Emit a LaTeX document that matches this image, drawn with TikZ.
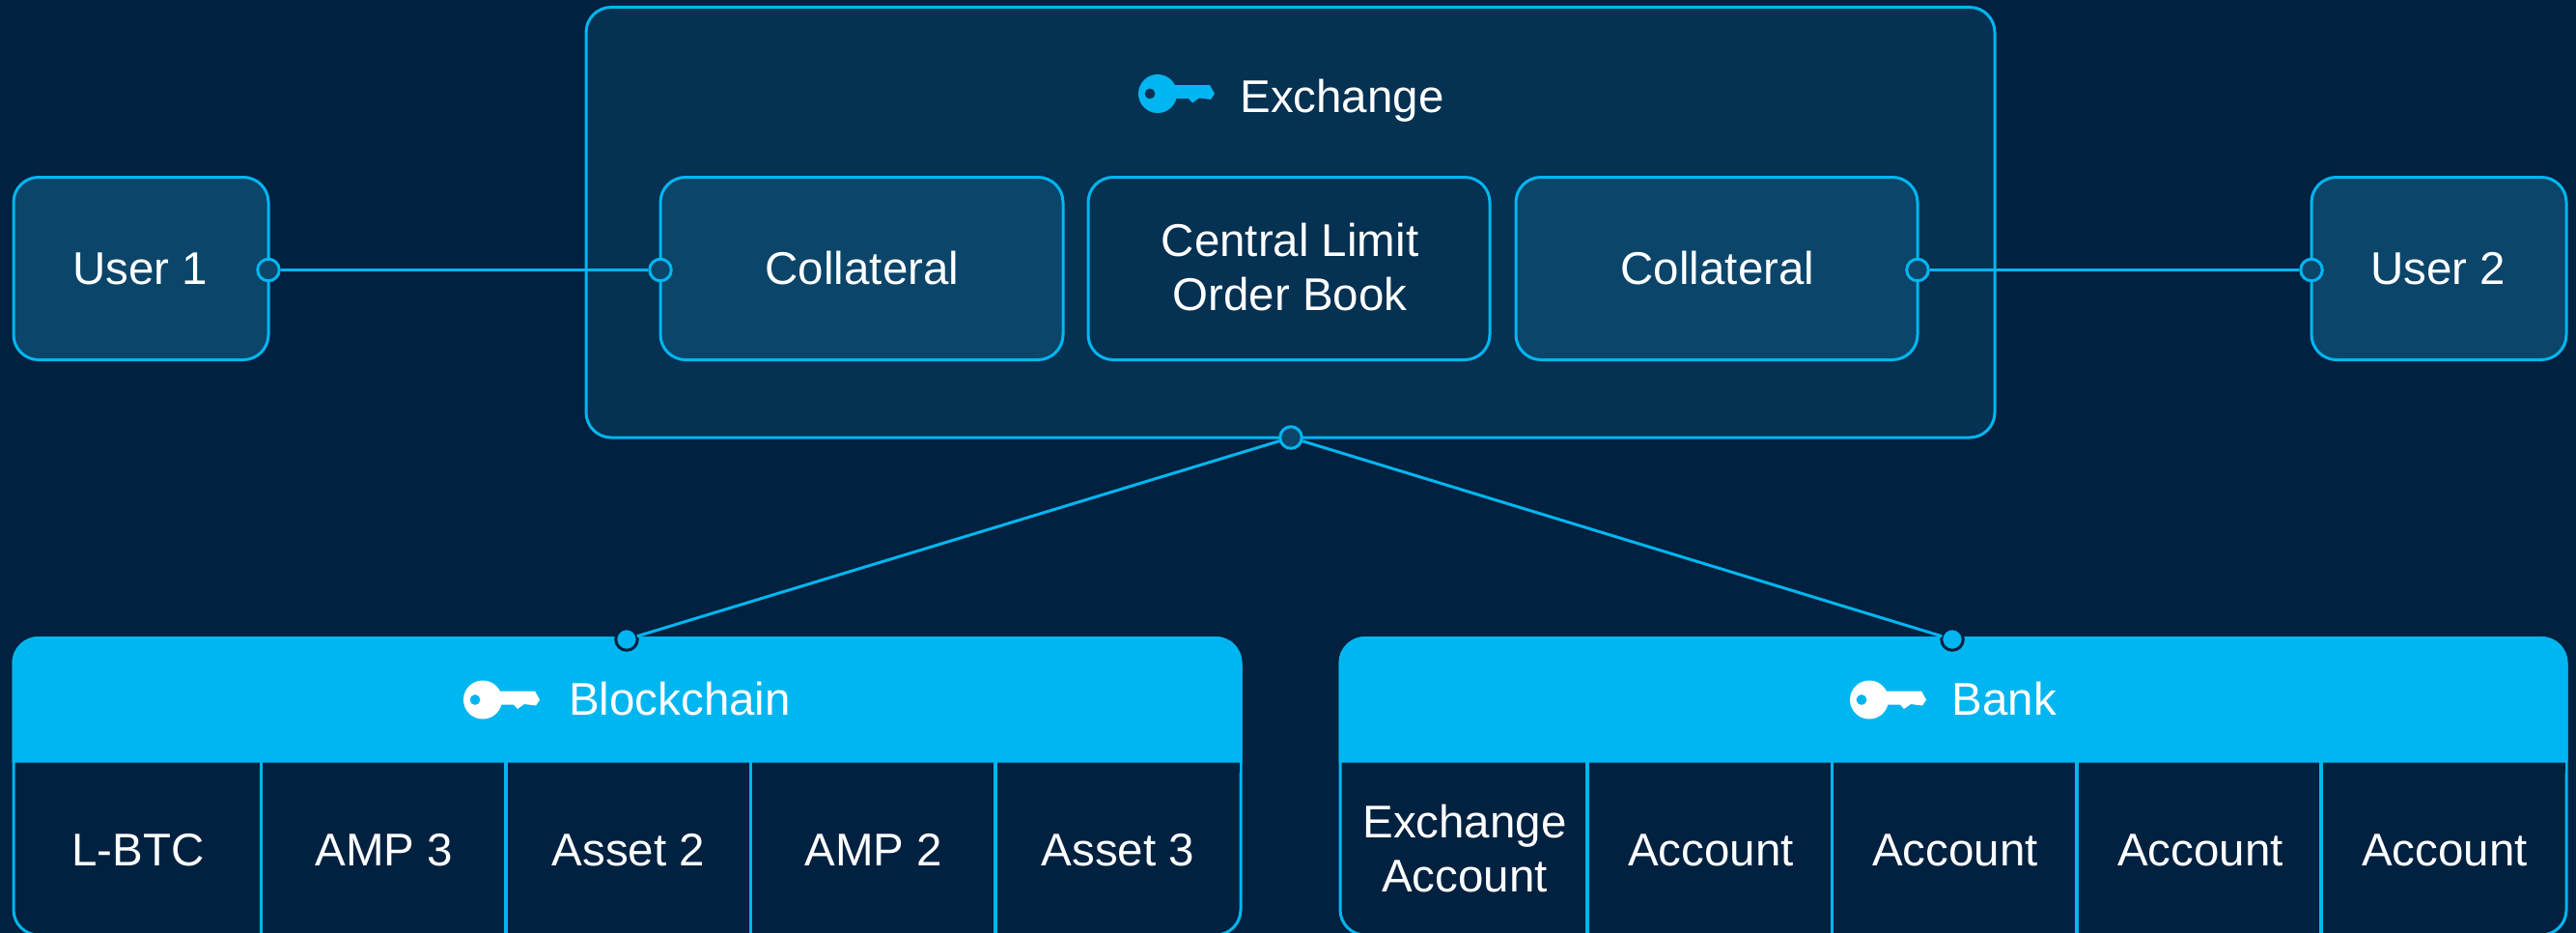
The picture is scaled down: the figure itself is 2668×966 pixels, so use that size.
\documentclass[tikz,border=0pt]{standalone}
\usepackage{fontspec}
\setmainfont{Liberation Sans}
\definecolor{bg}{HTML}{002140}
\definecolor{panel}{HTML}{053152}
\definecolor{inner}{HTML}{0B456A}
\definecolor{cy}{HTML}{00B6F0}
\tikzset{
  x=1pt,y=-1pt,
  box/.style={draw=cy,line width=3pt,rounded corners=26pt,fill=#1},
  port/.style={circle,draw=cy,line width=3pt,fill=#1,minimum size=22.5pt,inner sep=0pt},
  port/.default=inner,
  wire/.style={draw=cy,line width=3pt},
  txt/.style={text=white,font=\fontsize{47.5}{56}\selectfont,align=center,inner sep=0pt,anchor=base},
  divider/.style={draw=cy,line width=3.5pt},
  header/.style={fill=cy,draw=cy,line width=3pt},
}
\newcommand{\keyicon}[3]{% x,y,colour
  \begin{scope}[shift={(#1,#2)}]
    \fill[#3,even odd rule] (0,0) circle (20) (-8,0) circle (5.5);
    \fill[#3] (14,-9) -- (54,-9) -- (59,0) -- (55,6) -- (43,4.5) -- (36,9.5) -- (32,5) -- (14,5) -- cycle;
  \end{scope}}
\begin{document}
\begin{tikzpicture}
\useasboundingbox (0,0) rectangle (2668,966);
\fill[bg] (0,0) rectangle (2668,966);
\clip (0,0) rectangle (2668,966);
% top panel
\draw[box=panel] (607,7.5) rectangle (2066,453);
\keyicon{1199}{97}{cy}
\node[txt] (ex) at (1390,116) {Exchange};
% users
\path[box=inner] (14,183.5) rectangle (278,372.5);
\path[box=inner] (2394,183.5) rectangle (2658,372.5);
\node[txt] (u1) at (145,294) {User 1};
\node[txt] (u2) at (2525,294) {User 2};
% inner boxes
\path[box=inner] (684,183.5) rectangle (1101,372.5);
\path[box=panel] (1127,183.5) rectangle (1543,372.5);
\path[box=inner] (1570,183.5) rectangle (1986,372.5);
\node[txt] (c1) at (893,294) {Collateral};
\node[txt] (clob) at (1336,321.5) {Central Limit\\Order Book};
\node[txt] (c2) at (1779,294) {Collateral};
% bottom panels
\draw[box=bg] (14,660.5) rectangle (1285,968);
\path[header] (14,788) [rounded corners=26pt] -- (14,660.5) -- (1285,660.5) [sharp corners] -- (1285,788) -- cycle;
\draw[box=bg] (1388,660.5) rectangle (2658,968);
\path[header] (1388,788) [rounded corners=26pt] -- (1388,660.5) -- (2658,660.5) [sharp corners] -- (2658,788) -- cycle;
\fill[bg] (15.5,789.5) rectangle (1283.5,800);
\fill[bg] (1389.5,789.5) rectangle (2656.5,800);
\keyicon{500}{724.5}{white}
\keyicon{1936}{724.5}{white}
\node[txt] (bc) at (704,740) {Blockchain};
\node[txt] (bk) at (2076,740) {Bank};
\foreach \x in {270.5,524,777.5,1031}{\draw[divider] (\x,788) -- (\x,966);}
\foreach \x in {1644,1897.5,2151,2404}{\draw[divider] (\x,788) -- (\x,966);}
\node[txt] (a1) at (143,896) {L-BTC};
\node[txt] (a2) at (398,896) {AMP 3};
\node[txt] (a3) at (651,896) {Asset 2};
\node[txt] (a4) at (905,896) {AMP 2};
\node[txt] (a5) at (1158,896) {Asset 3};
\node[txt] (b1) at (1517,923) {Exchange\\Account};
\node[txt] (b2) at (1772,896) {Account};
\node[txt] (b3) at (2025,896) {Account};
\node[txt] (b4) at (2279,896) {Account};
\node[txt] (b5) at (2532,896) {Account};
% ports
\node[port] (p1) at (278,279.5) {};
\node[port] (p2) at (684,279.5) {};
\node[port] (p3) at (1986,279.5) {};
\node[port] (p4) at (2394,279.5) {};
\node[port] (p5) at (1337,453) {};
\node[port=cy,draw=bg,outer sep=0pt] (p6) at (649,662) {};
\node[port=cy,draw=bg,outer sep=0pt] (p7) at (2022,662) {};
\draw[wire] (p1) -- (p2);
\draw[wire] (p3) -- (p4);
\draw[wire] (p5) -- (p6);
\draw[wire] (p5) -- (p7);
\end{tikzpicture}
\end{document}
